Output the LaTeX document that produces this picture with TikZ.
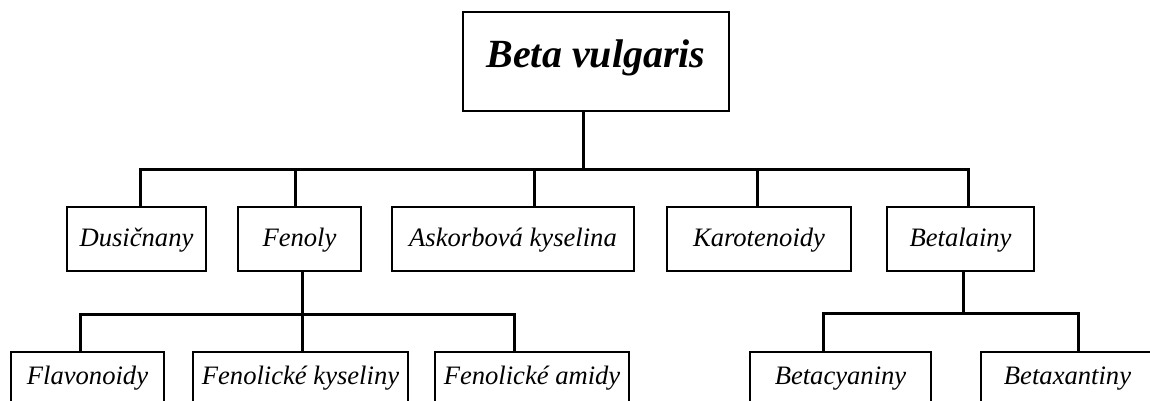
\documentclass[tikz,border=0pt]{standalone}
\usepackage{fontspec}
\setmainfont{Liberation Serif}
\usetikzlibrary{positioning}
\usetikzlibrary{calc}

\begin{document}
\begin{tikzpicture}[x=0.5pt,y=-0.5pt,line join=miter,
					font=\fontsize{13.3}{15}\selectfont\itshape]
					\tikzstyle{item}=[draw,line width=0.8pt,inner sep=0pt,minimum height=32pt,
					                  text height=9pt,text depth=2pt]
					\tikzstyle{leaf}=[item,text depth=8.5pt]
					\tikzstyle{link}=[line width=1.5pt]
					
					\useasboundingbox (0,0) rectangle (1150,401);
					\clip (0,0) rectangle (1150,401);
					
					\node[draw,line width=1pt,minimum width=133pt,minimum height=49.5pt,
					      text height=13.5pt,text depth=7pt,
					      font=\fontsize{20}{24}\selectfont\bfseries\itshape]
					                                (beta) at (596,61.5)        {Beta vulgaris};
					
					\node[item,minimum width=69.5pt] (dus) at (136.5,239)       {Dusičnany};
					\node[item,minimum width=61.5pt] (fen) [right=15.2pt of dus] {Fenoly};
					\node[item,minimum width=121pt]  (ask) [right=14.7pt of fen] {Askorbová kyselina};
					\node[item,minimum width=92pt]   (kar) [right=15.7pt of ask] {Karotenoidy};
					\node[item,minimum width=73.5pt] (bet) [right=17.2pt of kar] {Betalainy};
					
					\node[leaf,minimum width=76.5pt]  (fla)  at (87.5,384)         {Flavonoidy};
					\node[leaf,minimum width=107.5pt] (fkys) [right=13.7pt of fla]  {Fenolické kyseliny};
					\node[leaf,minimum width=97pt]    (fam)  [right=12.7pt of fkys] {Fenolické amidy};
					
					\node[leaf,minimum width=90.5pt]  (bcy)  at (840.5,384)        {Betacyaniny};
					\node[leaf,minimum width=86.5pt]  (bxa)  [right=24.2pt of bcy]  {Betaxantiny};
					
					% first level
					\draw[link] ([xshift=-6.5pt]beta.south) -- ++(0,-28.5pt) coordinate (hub1);
					\foreach \n/\s in {dus/1.75pt,fen/-2.25pt,ask/10.5pt,kar/-1pt,bet/3.75pt}
					\draw[link] (hub1) -| ([xshift=\s]\n.north);
					
					% second level
					\draw[link] ([xshift=1.25pt]fen.south) -- ++(0,-21.1pt) coordinate (hub2);
					\foreach \n/\s in {fla/-3.75pt,fkys/0.75pt,fam/-9pt}
					\draw[link] (hub2) -| ([xshift=\s]\n.north);
					
					\draw[link] ([xshift=1.25pt]bet.south) -- ++(0,-20.6pt) coordinate (hub3);
					\foreach \n/\s in {bcy/-8.75pt,bxa/5.25pt}
					\draw[link] (hub3) -| ([xshift=\s]\n.north);
					
\end{tikzpicture}
\end{document}
